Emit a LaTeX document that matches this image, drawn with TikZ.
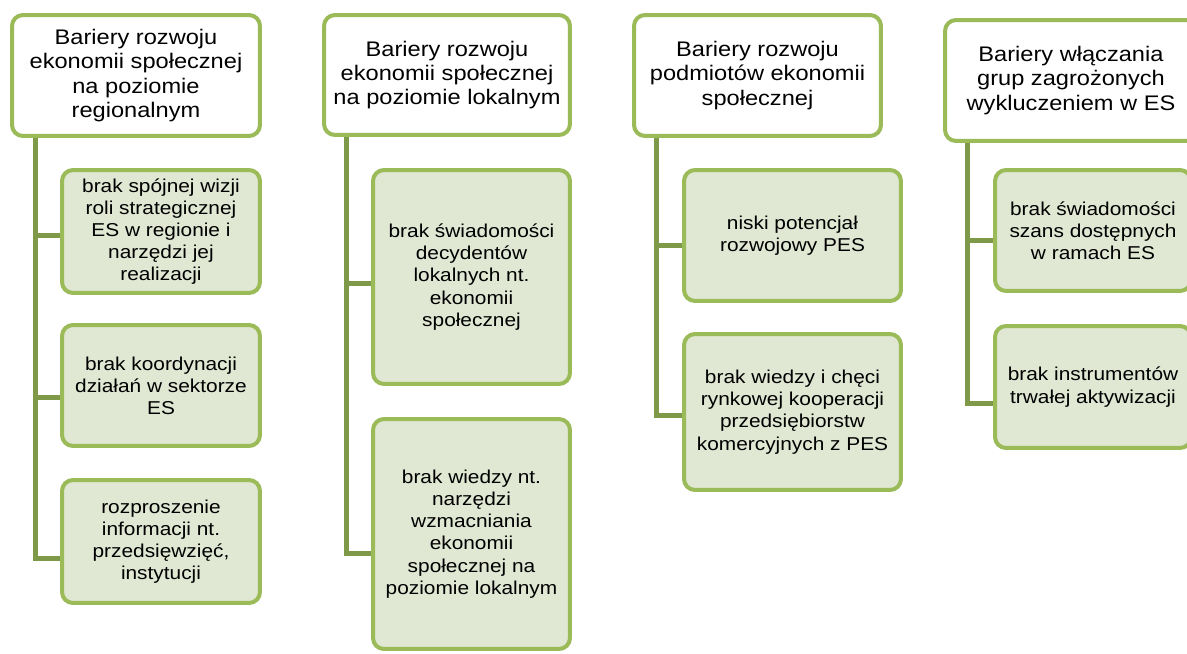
\documentclass[tikz,border=0pt]{standalone}
\usepackage{fontspec}
\setmainfont{Liberation Sans}[FakeStretch=1.12]
\usepackage{tikz}
\usetikzlibrary{calc}
\usepackage{xcolor}
\definecolor{boxgreen}{HTML}{9BBB59}
\definecolor{linegreen}{HTML}{7E9A49}
\definecolor{boxfill}{HTML}{E0E7D3}

\begin{document}
\begin{tikzpicture}[x=0.02cm, y=-0.02cm,
  topbox/.style={draw=boxgreen, line width=0.08cm, fill=white, rounded corners=0.22cm,
    align=center, inner sep=0pt, font=\fontsize{12}{13.8}\selectfont},
  subbox/.style={topbox, fill=boxfill, font=\fontsize{10.6}{12.6}\selectfont},
  branch/.style={draw=linegreen, line width=0.1cm}]
\useasboundingbox (0,0) rectangle (1187,653);
\clip (0,0) rectangle (1187,653);
% kolumna 1
\node[topbox, minimum width=4.96cm, minimum height=2.42cm] (h1) at (136,75.5)
  {Bariery rozwoju\\ekonomii społecznej\\na poziomie\\regionalnym};
\node[subbox, minimum width=3.96cm, minimum height=2.46cm] (a1) at (161,231.5)
  {brak spójnej wizji\\roli strategicznej\\ES w regionie i\\narzędzi jej\\realizacji};
\node[subbox, minimum width=3.96cm, minimum height=2.42cm] (a2) at (161,385.5)
  {brak koordynacji\\działań w sektorze\\ES};
\node[subbox, minimum width=3.96cm, minimum height=2.46cm] (a3) at (161,541.5)
  {rozproszenie\\informacji nt.\\przedsięwzięć,\\instytucji};
% kolumna 2
\node[topbox, minimum width=4.92cm, minimum height=2.40cm] (h2) at (447,75)
  {Bariery rozwoju\\ekonomii społecznej\\na poziomie lokalnym};
\node[subbox, minimum width=3.94cm, minimum height=4.28cm] (b1) at (471.5,277)
  {brak świadomości\\decydentów\\lokalnych nt.\\ekonomii\\społecznej};
\node[subbox, minimum width=3.94cm, minimum height=4.60cm] (b2) at (471.5,534)
  {brak wiedzy nt.\\narzędzi\\wzmacniania\\ekonomii\\społecznej na\\poziomie lokalnym};
% kolumna 3
\node[topbox, minimum width=4.94cm, minimum height=2.42cm] (h3) at (757.5,75.5)
  {Bariery rozwoju\\podmiotów ekonomii\\społecznej};
\node[subbox, minimum width=4.34cm, minimum height=2.62cm] (c1) at (792.5,235.5)
  {niski potencjał\\rozwojowy PES};
\node[subbox, minimum width=4.34cm, minimum height=3.12cm] (c2) at (792.5,412)
  {brak wiedzy i chęci\\rynkowej kooperacji\\przedsiębiorstw\\komercyjnych z PES};
% kolumna 4
\node[topbox, minimum width=5.04cm, minimum height=2.42cm] (h4) at (1071,80.5)
  {Bariery włączania\\grup zagrożonych\\wykluczeniem w ES};
\node[subbox, minimum width=3.92cm, minimum height=2.42cm] (d1) at (1093,230.5)
  {brak świadomości\\szans dostępnych\\w ramach ES};
\node[subbox, minimum width=3.92cm, minimum height=2.44cm] (d2) at (1093,387)
  {brak instrumentów\\trwałej aktywizacji};
% linie
\coordinate (s1) at ($(h1.south west)+(25,0)$);
\coordinate (s2) at ($(h2.south west)+(24,0)$);
\coordinate (s3) at ($(h3.south west)+(24,0)$);
\coordinate (s4) at ($(h4.south west)+(24,0)$);
\draw[branch] (s1) |- ([yshift=-0.33cm]a3.west);
\draw[branch] (s1) |- ([yshift=-0.07cm]a1.west);
\draw[branch] (s1) |- ([yshift=-0.23cm]a2.west);
\draw[branch] (s2) |- ([yshift=-0.38cm]b2.west);
\draw[branch] (s2) |- ([yshift=-0.12cm]b1.west);
\draw[branch] (s3) |- ([yshift=-0.06cm]c2.west);
\draw[branch] (s3) |- ([yshift=-0.19cm]c1.west);
\draw[branch] (s4) |- ([yshift=-0.32cm]d2.west);
\draw[branch] (s4) |- ([yshift=-0.19cm]d1.west);
\end{tikzpicture}
\end{document}
